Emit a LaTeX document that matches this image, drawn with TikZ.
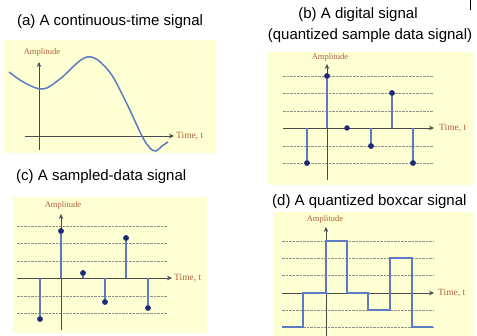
\documentclass[tikz,border=0pt]{standalone}
\usepackage{fontspec}
\setmainfont{Liberation Serif}
\newfontfamily\titlefont{Liberation Sans}
\usetikzlibrary{arrows.meta}
\definecolor{panelbg}{HTML}{FFFFD4}
\definecolor{sigblue}{HTML}{5B7BC4}
\definecolor{dotblue}{HTML}{1E2A78}
\definecolor{axisgray}{HTML}{4A4A4A}
\definecolor{gridgray}{HTML}{8E8E88}
\definecolor{labelbrown}{HTML}{B0603C}
\tikzset{
  panel/.style={fill=panelbg, draw=none},
  axis/.style={draw=axisgray, line width=0.7pt},
  axisarrow/.style={axis, -{Stealth[length=5pt,width=4.5pt]}},
  gridline/.style={draw=gridgray, line width=0.9pt, dash pattern=on 2.5pt off 1pt},
  signal/.style={draw=sigblue, line width=1.5pt},
  stem/.style={draw=sigblue, line width=1.3pt},
  sdot/.style={circle, fill=dotblue, inner sep=0pt, minimum size=5.5pt},
  title/.style={font=\titlefont\fontsize{15}{18}\selectfont, inner sep=0pt, text=black},
  amp/.style={font=\fontsize{8.5}{10}\selectfont, text=labelbrown, inner sep=0pt},
  timelbl/.style={font=\fontsize{9.5}{11}\selectfont, text=labelbrown, inner sep=0pt, anchor=west}
}
\begin{document}
\begin{tikzpicture}[x=1pt,y=-1pt]
\useasboundingbox (0,0) rectangle (477,336);
\fill[white] (0,0) rectangle (477,336);
% small mark top right
\draw[line width=0.8pt] (470,0) -- (470,10);

% ---------- (a) ----------
\node[title] (ta) at (110,22) {(a) A continuous-time signal};
\fill[panel] (4,40) rectangle (216,153);
\coordinate (ay0) at (39,150); \coordinate (ay1) at (39,62);
\coordinate (ax0) at (25,136); \coordinate (ax1) at (174,136);
\draw[axisarrow] (ay0) -- (ay1);
\draw[axisarrow] (ax0) -- (ax1);
\node[amp] (aamp) at (42,52) {Amplitude};
\node[timelbl] (atime) at (176,136) {Time, t};
\draw[signal] plot[smooth, tension=0.6] coordinates {(9,72) (25,83) (43,89) (60,79) (87,57) (108,70) (125,100) (142,136) (150,148) (156,151) (162,146) (168,142)};

% ---------- (b) ----------
\node[title] (tb1) at (358,15) {(b) A digital signal};
\node[title] (tb2) at (370,36) {(quantized sample data signal)};
\fill[panel] (268,52) rectangle (473,185);
\foreach \yy in {76,93,111,146,163} \draw[gridline] (283,\yy) -- (433,\yy);
\draw[axisarrow] (327,180) -- (327,64);
\draw[axisarrow] (283,128) -- (434,128);
\node[amp] (bamp) at (330,57) {Amplitude};
\node[timelbl] (btime) at (439,128) {Time, t};
\coordinate (b1) at (307,128); \node[sdot] (bd1) at (307,163) {};
\coordinate (b2) at (327,128); \node[sdot] (bd2) at (327,76) {};
\node[sdot] (bd3) at (347,128) {};
\coordinate (b4) at (371,128); \node[sdot] (bd4) at (371,146) {};
\coordinate (b5) at (392,128); \node[sdot] (bd5) at (392,93) {};
\coordinate (b6) at (413,128); \node[sdot] (bd6) at (413,163) {};
\foreach \i in {1,2,4,5,6} \draw[stem] (b\i) -- (bd\i.center);
\foreach \i in {1,...,6} {\ifnum\i=3\else\node[sdot] at (bd\i) {};\fi}

% ---------- (c) ----------
\node[title, anchor=west] (tc) at (16,177) {(c) A sampled-data signal};
\fill[panel] (13,197) rectangle (207,333);
\foreach \yy in {226,243,261,296,313} \draw[gridline] (17,\yy) -- (167,\yy);
\draw[axisarrow] (61,330) -- (61,214);
\draw[axisarrow] (17,278) -- (172,278);
\node[amp] (camp) at (63,205) {Amplitude};
\node[timelbl] (ctime) at (174,278) {Time, t};
\coordinate (c1) at (40,278); \node[sdot] (cd1) at (40,319) {};
\coordinate (c2) at (61,278); \node[sdot] (cd2) at (61,231) {};
\coordinate (c3) at (83,278); \node[sdot] (cd3) at (83,273) {};
\coordinate (c4) at (105,278); \node[sdot] (cd4) at (105,302) {};
\coordinate (c5) at (126,278); \node[sdot] (cd5) at (126,238) {};
\coordinate (c6) at (148,278); \node[sdot] (cd6) at (148,308) {};
\foreach \i in {1,...,6} \draw[stem] (c\i) -- (cd\i.center);
\foreach \i in {1,...,6} \node[sdot] at (cd\i) {};

% ---------- (d) ----------
\node[title, anchor=west] (td) at (272,202) {(d) A quantized boxcar signal};
\fill[panel] (273,212) rectangle (473,336);
\foreach \yy in {241,258,275,310,327} \draw[gridline] (282,\yy) -- (433,\yy);
\draw[axisarrow] (326,336) -- (326,227);
\draw[axisarrow] (282,293) -- (434,293);
\node[amp] (damp) at (325,219) {Amplitude};
\node[timelbl] (dtime) at (438,293) {Time, t};
\draw[signal, line join=miter] (282,327) -- (303,327) -- (303,293) -- (326,293) -- (326,241)
  -- (347,241) -- (347,293) -- (368,293) -- (368,310) -- (390,310) -- (390,258)
  -- (412,258) -- (412,327) -- (433,327);
\end{tikzpicture}
\end{document}
